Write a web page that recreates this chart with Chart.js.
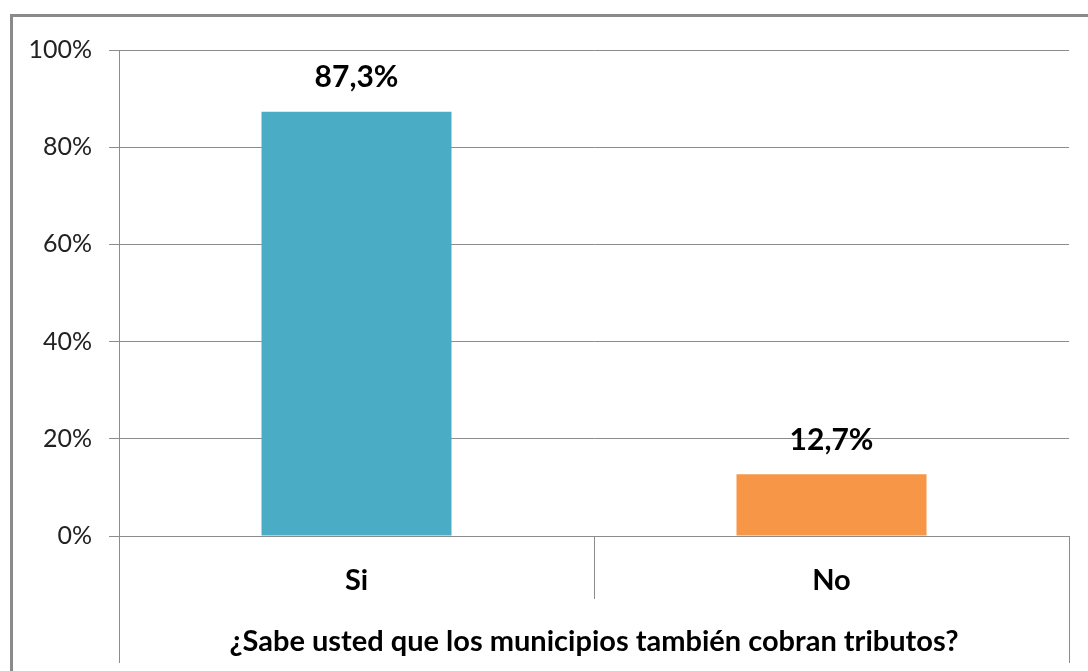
<!DOCTYPE html>
<html>
<head>
<meta charset="utf-8">
<script src="https://cdn.jsdelivr.net/npm/chart.js@4"></script>
<style>
  body { margin: 0; background: #fff; }
  #wrap { width: 1088px; height: 671px; }
</style>
</head>
<body>
<div id="wrap"><canvas id="tributosChart" width="1088" height="671"></canvas></div>
<script>
const categories = ['Si', 'No'];
const values = [87.3, 12.7];
const barColors = ['#4BACC6', '#F79646'];
const yTicks = [0, 20, 40, 60, 80, 100];
const axisTitle = '¿Sabe usted que los municipios también cobran tributos?';

const lineGray = '#8c8c8c';

// frame, data labels and the category separators
const extras = {
  id: 'extras',
  beforeDraw(chart) {
    const c = chart.ctx;
    c.save();
    c.strokeStyle = '#8a8a8a';
    c.lineWidth = 3;
    c.strokeRect(11.5, 15.5, 1100, 700);
    c.restore();
  },
  afterDraw(chart) {
    const c = chart.ctx;
    const area = chart.chartArea;
    const x = chart.scales.x;
    const meta = chart.getDatasetMeta(0);

    c.save();
    c.font = 'bold 30px Lato, "Open Sans", sans-serif';
    c.fillStyle = '#000';
    c.textAlign = 'center';
    c.textBaseline = 'middle';
    meta.data.forEach(function(bar, i) {
      c.fillText(values[i].toFixed(1).replace('.', ',') + '%', bar.x, bar.y - 34);
    });

    c.strokeStyle = lineGray;
    c.lineWidth = 1;
    const half = (x.getPixelForValue(1) - x.getPixelForValue(0)) / 2;
    for (let i = 0; i <= categories.length; i++) {
      const px = Math.round(x.getPixelForValue(i) - half) + 0.5;
      const outer = (i === 0 || i === categories.length);
      c.beginPath();
      c.moveTo(px, area.bottom);
      c.lineTo(px, outer ? area.bottom + 127 : area.bottom + 63);
      c.stroke();
    }

    c.font = 'bold 29px Lato, "Open Sans", sans-serif';
    c.fillText(axisTitle, (area.left + area.right) / 2, area.bottom + 106);
    c.restore();
  }
};

new Chart(document.getElementById('tributosChart'), {
  type: 'bar',
  data: {
    labels: categories,
    datasets: [{
      data: values,
      backgroundColor: barColors,
      barPercentage: 0.4,
      categoryPercentage: 1
    }]
  },
  options: {
    responsive: false,
    animation: false,
    layout: { padding: { left: 0, right: 19, top: 50, bottom: 0 } },
    plugins: {
      legend: { display: false },
      tooltip: { enabled: false }
    },
    scales: {
      y: {
        min: 0,
        max: 100,
        afterBuildTicks(scale) {
          scale.ticks = yTicks.map(function(v) { return { value: v }; });
        },
        afterFit(scale) { scale.width = 119; },
        ticks: {
          callback: function(v) { return v + '%'; },
          font: { family: 'Lato, "Open Sans", sans-serif', size: 25 },
          color: '#222',
          padding: 17
        },
        grid: { color: lineGray, tickLength: 10, tickColor: lineGray },
        border: { color: lineGray }
      },
      x: {
        afterFit(scale) { scale.height = 135; },
        ticks: {
          font: { family: 'Lato, "Open Sans", sans-serif', size: 29, weight: 'bold' },
          color: '#000',
          padding: 19
        },
        grid: { display: false },
        border: { color: lineGray }
      }
    }
  },
  plugins: [extras]
});
</script>
</body>
</html>
